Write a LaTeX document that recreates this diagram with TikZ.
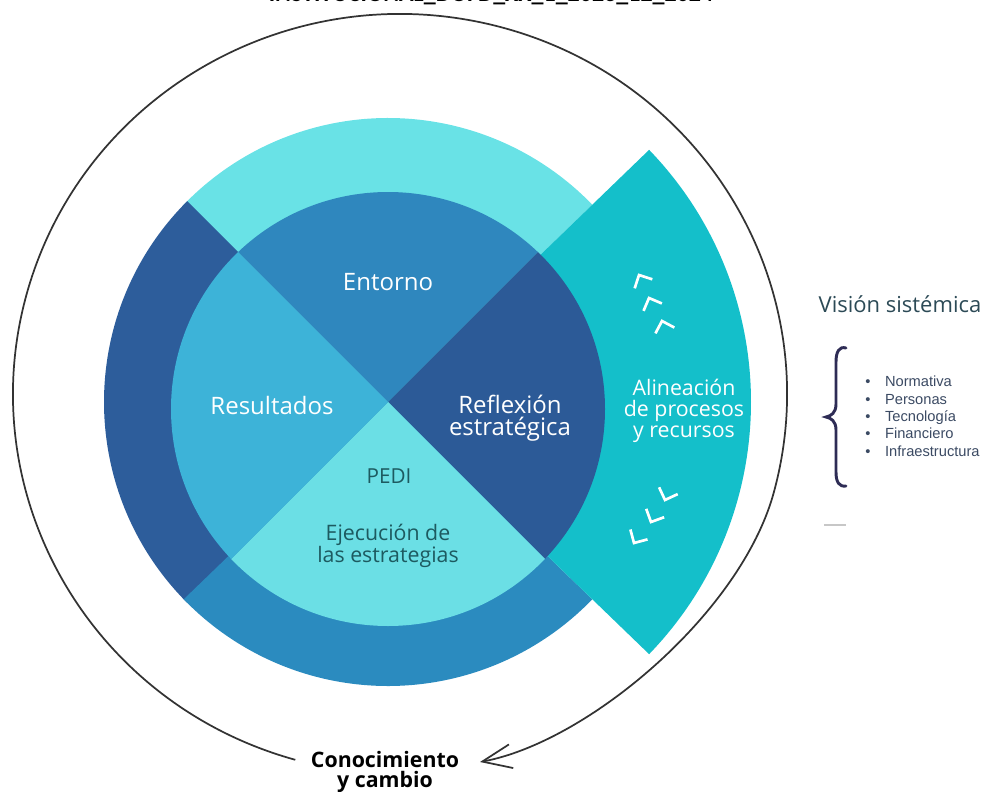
\documentclass[tikz,border=0pt]{standalone}
\usepackage{fontspec}
\setmainfont{Open Sans}
\newfontfamily\listfont{Liberation Sans}
\newfontfamily\capfont{Carlito}
\usetikzlibrary{arrows.meta}

\definecolor{ringTop}{HTML}{69E2E6}
\definecolor{ringLeft}{HTML}{2D5D9B}
\definecolor{ringBottom}{HTML}{2B8BBF}
\definecolor{bandTeal}{HTML}{14BFCA}
\definecolor{qEntorno}{HTML}{2F87BE}
\definecolor{qReflexion}{HTML}{2C5A97}
\definecolor{qResultados}{HTML}{3DB3D8}
\definecolor{qEjecucion}{HTML}{6BDFE5}
\definecolor{darkTeal}{HTML}{1D5A60}
\definecolor{slateText}{HTML}{2C4A56}
\definecolor{listText}{HTML}{3B4A63}
\definecolor{braceInk}{HTML}{2E2C55}

\begin{document}
\begin{tikzpicture}[x=0.75pt,y=-0.75pt,
  whitelbl/.style={text=white,align=center,inner sep=0pt},
  tealbl/.style={text=darkTeal,align=center,inner sep=0pt},
  chev/.style={draw=white,line width=2pt,line join=miter},
  chevron/.pic={\draw[chev] (9.9,-9.9) -- (0,0) -- (9.9,9.9);},
  loopline/.style={draw=black!80,line width=1.3pt},
]
\useasboundingbox (0,0) rectangle (985,792);

% clipped header line along the top edge
\begin{scope}
  \clip (0,0) rectangle (985,792);
  \node[anchor=base,inner sep=0pt,font=\capfont\bfseries\fontsize{18}{20}\selectfont]
    (header) at (491,1.5) {INSTITUCIONAL\_DOFD\_XX\_1\_2023\_12\_2024};
\end{scope}

% centre of the cross and of the outer ring
\coordinate (O) at (388,402);

% outer ring quadrants
\fill[ringTop] (O) -- +(-136:284) arc[start angle=-136,end angle=-44,radius=284] -- cycle;
\fill[ringLeft] (O) -- +(135:284) arc[start angle=135,end angle=225,radius=284] -- cycle;
\fill[ringBottom] (O) -- +(44:284) arc[start angle=44,end angle=136,radius=284] -- cycle;

% alignment band on the right
\fill[bandTeal] (O) -- +(-44:363) arc[start angle=-44,end angle=44,radius=363] -- cycle;

% inner disk split into four quadrants
\begin{scope}
  \clip (388,409) circle[radius=217];
  \fill[qEntorno] (O) -- +(-135:320) -- +(-45:320) -- cycle;
  \fill[qReflexion] (O) -- +(-45:320) -- +(45:320) -- cycle;
  \fill[qEjecucion] (O) -- +(45:320) -- +(135:320) -- cycle;
  \fill[qResultados] (O) -- +(135:320) -- +(225:320) -- cycle;
\end{scope}

% chevrons along the band
\pic[rotate=-63] at (639,275) {chevron};
\pic[rotate=-68] at (649,298) {chevron};
\pic[rotate=-73] at (662,321) {chevron};
\pic[rotate=70] at (665,500) {chevron};
\pic[rotate=65] at (651,522) {chevron};
\pic[rotate=60] at (634,543) {chevron};

% quadrant labels
\node[whitelbl,font=\fontsize{18}{20}\selectfont] (entorno) at (388,282) {Entorno};
\node[whitelbl,font=\fontsize{18}{20}\selectfont] (resultados) at (272,405) {Resultados};
\node[whitelbl,font=\fontsize{18}{16.5}\selectfont] (reflexion) at (510,418) {Reflexión\\estratégica};
\node[tealbl,font=\fontsize{15.5}{17}\selectfont] (pedi) at (389,476) {PEDI};
\node[tealbl,font=\fontsize{16}{14}\selectfont] (ejecucion) at (388,546) {Ejecución de\\las estrategias};
\node[whitelbl,font=\fontsize{16}{16}\selectfont] (alineacion) at (684,411) {Alineación\\de procesos\\y recursos};

% hand-drawn loop with arrow towards the bottom label
\coordinate (loopStart) at (295.3,759.8);
\coordinate (loopEnd) at (480,762);
\draw[loopline,-{Straight Barb[length=22pt,width=18pt,line width=1.3pt]}]
  (loopStart) arc[start angle=105.7,end angle=375,x radius=387,y radius=380]
  .. controls (741,613) and (588,742) .. (loopEnd);
\node[inner sep=0pt,align=center,font=\bfseries\fontsize{16}{15}\selectfont] (cambio) at (385,772) {Conocimiento\\y cambio};

% systemic view
\node[inner sep=0pt,anchor=base,text=slateText,font=\fontsize{16.5}{18}\selectfont] (vision) at (900,312) {Visión sistémica};
\draw[braceInk,line width=2.2pt,line cap=round]
  (846,348) .. controls (839,346) and (836,352) .. (836,362) -- (836,404)
  .. controls (836,413) and (831,416) .. (826,417)
  .. controls (831,418) and (836,421) .. (836,430) -- (836,472)
  .. controls (836,482) and (839,487) .. (846,486);
\node[inner sep=0pt,anchor=west,text=listText,font=\listfont\fontsize{11}{13}\selectfont] (lista) at (865,418)
  {\begin{tabular}{@{}l@{\hspace{11pt}}l@{}}
   \textbullet & Normativa\\
   \textbullet & Personas\\
   \textbullet & Tecnología\\
   \textbullet & Financiero\\
   \textbullet & Infraestructura
   \end{tabular}};
\draw[black!22,line width=1.5pt] (824,525) coordinate (dashL) -- (846,525) coordinate (dashR);
\end{tikzpicture}
\end{document}
